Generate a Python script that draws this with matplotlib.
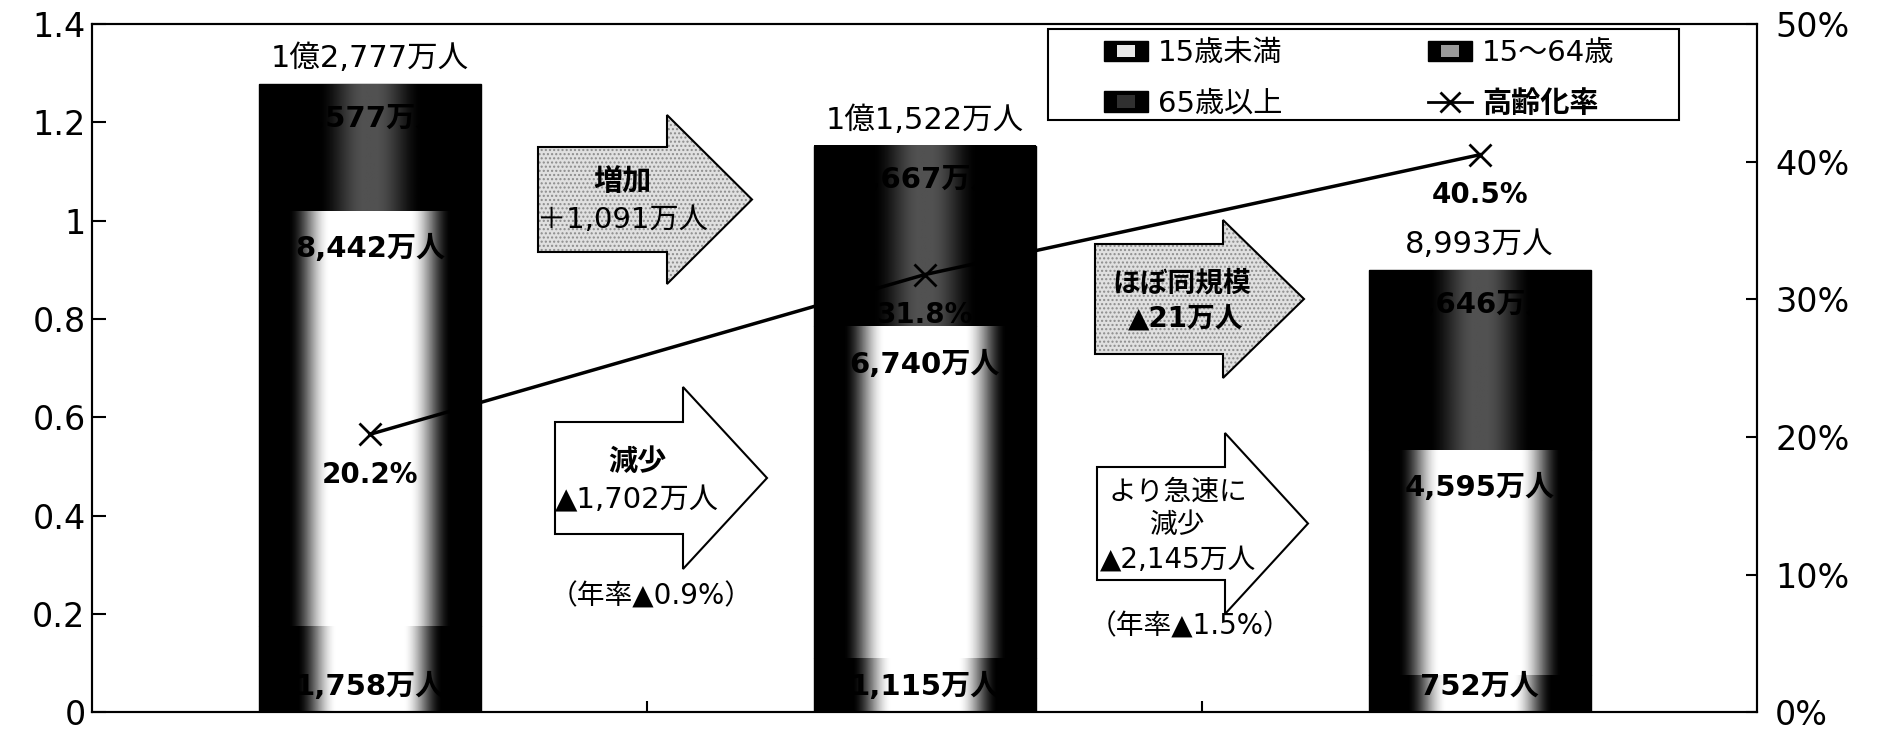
import numpy as np
import matplotlib
matplotlib.use('Agg')
import matplotlib.pyplot as plt
from matplotlib.patches import Polygon, Rectangle, Patch
from matplotlib.lines import Line2D
from matplotlib.legend_handler import HandlerBase
from matplotlib.ticker import FuncFormatter, PercentFormatter, MultipleLocator

plt.rcParams['font.family'] = ['DejaVu Sans', 'Noto Sans CJK JP']
plt.rcParams['hatch.linewidth'] = 1.0

# 人口（億人）
positions = [0, 1, 2]
totals = [1.2777, 1.1522, 0.8993]
total_labels = ['1億2,777万人', '1億1,522万人', '8,993万人']
under15 = [0.1758, 0.1115, 0.0752]
age15_64 = [0.8442, 0.6740, 0.4595]
over65 = [0.2577, 0.3667, 0.3646]
under15_labels = ['1,758万人', '1,115万人', '752万人']
age15_64_labels = ['8,442万人', '6,740万人', '4,595万人']
over65_labels = ['2,577万人', '3,667万人', '3,646万人']
# 高齢化率
aging_rate = [0.202, 0.318, 0.405]
aging_labels = ['20.2%', '31.8%', '40.5%']

series_names = ['15歳未満', '15～64歳', '65歳以上']

W, H = 1883, 733


def fpos(x, y):
    # 画像のピクセル位置 -> figure座標
    return x / W, 1 - y / H


# 棒の中のグラデーション（両端が黒、中央が明るい）
u = np.linspace(-1, 1, 300)


def shade(peak, a, b):
    t = np.clip((b - np.abs(u)) / (b - a), 0, 1)
    return peak * t * t * (3 - 2 * t)


shades = [(1.0, 0.30, 0.66), (1.0, 0.36, 0.74), (0.32, 0.05, 0.48)]

fig = plt.figure(figsize=(W / 100, H / 100), dpi=100)
ax = fig.add_axes([0.0491, 0.028, 0.8840, 0.9393])

bottom = np.zeros(3)
for vals, (peak, a, b) in zip([under15, age15_64, over65], shades):
    bars = ax.bar(positions, vals, width=0.4, bottom=bottom, color='black',
                  edgecolor='black', linewidth=1, zorder=1)
    for p in bars:
        ax.imshow(shade(peak, a, b)[np.newaxis, :],
                  extent=(p.get_x(), p.get_x() + p.get_width(),
                          p.get_y(), p.get_y() + p.get_height()),
                  cmap='gray', vmin=0, vmax=1, aspect='auto',
                  interpolation='bilinear', zorder=2)
    bottom += np.array(vals)

for i in positions:
    ax.text(i, 0.052, under15_labels[i], ha='center', va='center',
            fontsize=21, fontweight='bold', zorder=3)
    ax.text(i, under15[i] + age15_64[i] - 0.078, age15_64_labels[i],
            ha='center', va='center', fontsize=21, fontweight='bold', zorder=3)
    ax.text(i, totals[i] - 0.07, over65_labels[i], ha='center', va='center',
            fontsize=21, fontweight='bold', zorder=3)
    ax.annotate(total_labels[i], (i, totals[i]), xytext=(0, 8),
                textcoords='offset points', ha='center', va='bottom',
                fontsize=22)

ax.set_xlim(-0.5, 2.5)
ax.set_ylim(0, 1.4)
ax.set_xticks([0.5, 1.5])
ax.set_xticklabels([])
ax.yaxis.set_major_locator(MultipleLocator(0.2))
ax.yaxis.set_major_formatter(FuncFormatter(lambda v, _: f'{v:g}'))
ax.tick_params(axis='x', direction='in', length=8, width=1.5)
ax.tick_params(axis='y', direction='in', length=10, width=1.5,
               labelsize=24, pad=5)
for s in ax.spines.values():
    s.set_linewidth(1.5)


# 矢印（位置は画像のピクセル）
def draw_arrow(left, base, tip, body_top, body_bot, head_top, head_bot, dotted):
    mid = (head_top + head_bot) / 2
    pts = [fpos(left, body_bot), fpos(left, body_top), fpos(base, body_top),
           fpos(base, head_top), fpos(tip, mid), fpos(base, head_bot),
           fpos(base, body_bot)]
    if dotted:
        ax.add_patch(Polygon(pts, closed=True, transform=fig.transFigure,
                             facecolor='#e0e0e0', edgecolor='#8c8c8c',
                             hatch='....', linewidth=0, zorder=4))
    else:
        ax.add_patch(Polygon(pts, closed=True, transform=fig.transFigure,
                             facecolor='white', edgecolor='none', zorder=4))
    ax.add_patch(Polygon(pts, closed=True, transform=fig.transFigure, fill=False,
                         edgecolor='black', linewidth=1.5, zorder=5))


draw_arrow(538, 667, 752, 147, 252, 115, 284, True)
draw_arrow(555, 683, 767, 422, 534, 387, 569, False)
draw_arrow(1095, 1223, 1304, 244, 354, 220, 378, True)
draw_arrow(1097, 1225, 1308, 467, 580, 433, 614, False)

arrow_texts = [
    (622, 182, '増加', 'bold', 21),
    (622, 220, '＋1,091万人', 'normal', 21),
    (637, 462, '減少', 'bold', 21),
    (637, 500, '▲1,702万人', 'normal', 21),
    (651, 597, '（年率▲0.9%）', 'normal', 20),
    (1182, 283, 'ほぼ同規模', 'bold', 20),
    (1186, 320, '▲21万人', 'bold', 20),
    (1178, 492, 'より急速に', 'normal', 20),
    (1178, 525, '減少', 'normal', 20),
    (1178, 560, '▲2,145万人', 'normal', 20),
    (1190, 627, '（年率▲1.5%）', 'normal', 20),
]
for x, y, s, w, fs in arrow_texts:
    ax.text(*fpos(x, y), s, transform=fig.transFigure, ha='center',
            va='center', fontsize=fs, fontweight=w, zorder=6)

# 高齢化率（右軸）
ax2 = ax.twinx()
ax2.plot(positions, aging_rate, color='black', lw=2.5, marker='x', ms=16, mew=2)
for i in positions:
    ax2.annotate(aging_labels[i], (i, aging_rate[i]), xytext=(0, -29),
                 textcoords='offset points', ha='center', va='center',
                 fontsize=20, fontweight='bold')
ax2.set_ylim(0, 0.5)
ax2.yaxis.set_major_locator(MultipleLocator(0.1))
ax2.yaxis.set_major_formatter(PercentFormatter(1.0, decimals=0))
ax2.tick_params(axis='y', direction='in', length=8, width=1.5,
                labelsize=24, pad=13)
for s in ax2.spines.values():
    s.set_linewidth(1.5)


# 凡例
class SwatchHandler(HandlerBase):
    def __init__(self, inner):
        super().__init__()
        self.inner = inner

    def create_artists(self, legend, orig_handle, xdescent, ydescent,
                       width, height, fontsize, trans):
        outer = Rectangle((-xdescent, -ydescent), width, height,
                          facecolor='black', edgecolor='black', transform=trans)
        inner = Rectangle((-xdescent + 0.3 * width, -ydescent + 0.2 * height),
                          0.4 * width, 0.6 * height, facecolor=self.inner,
                          edgecolor='none', transform=trans)
        return [outer, inner]


h_u15 = Patch(label=series_names[0])
h_mid = Patch(label=series_names[1])
h_o65 = Patch(label=series_names[2])
h_line = Line2D([], [], color='black', lw=2, marker='x', ms=14, mew=2,
                label='高齢化率')
handler_map = {h_u15: SwatchHandler('#e8e8e8'),
               h_mid: SwatchHandler('#9a9a9a'),
               h_o65: SwatchHandler('#303030')}

x0, y0 = fpos(1048, 120)
x1, y1 = fpos(1679, 29)
ax2.add_patch(Rectangle((x0, y0), x1 - x0, y1 - y0, transform=fig.transFigure,
                        facecolor='white', edgecolor='black', linewidth=1.5,
                        zorder=4))
leg = ax2.legend(handles=[h_u15, h_o65, h_mid, h_line], ncol=2,
                 loc='upper left', bbox_to_anchor=fpos(1104, 39),
                 bbox_transform=fig.transFigure,
                 frameon=False, fontsize=21, handlelength=1.5,
                 handletextpad=0.35, columnspacing=5.0, labelspacing=0.78,
                 borderpad=0, borderaxespad=0, handler_map=handler_map)
leg.set_zorder(5)
for t in leg.get_texts():
    if t.get_text() == '高齢化率':
        t.set_fontweight('bold')

fig.savefig('out.png', dpi=100)
